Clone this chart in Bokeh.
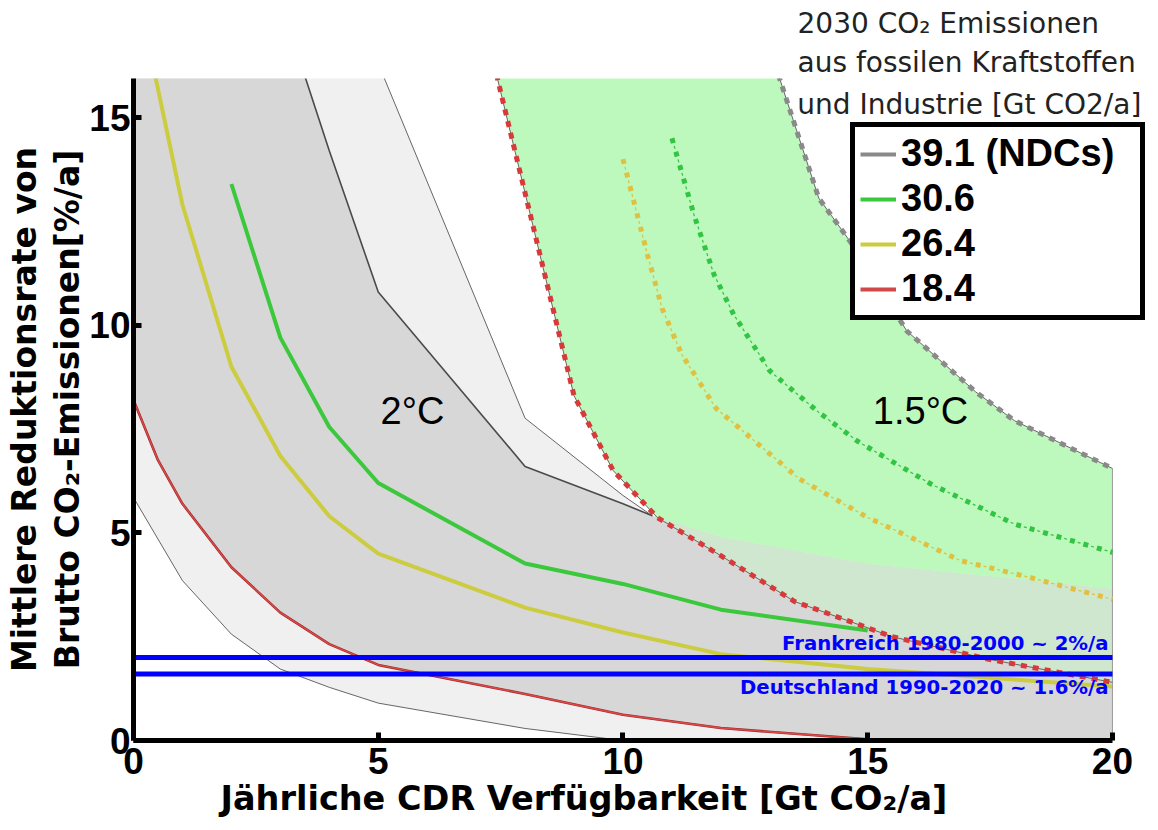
import numpy as np
from bokeh.plotting import figure
from bokeh.models import (Range1d, FixedTicker, Label, Legend, LegendItem, Title)
from bokeh.embed import file_html
from bokeh.resources import INLINE

# ---------------- data ----------------
cdr_min, cdr_max = 0, 20
y_top = 15.94

# 2°C: wide (light grey) range
lg_lo_x = [0, 1, 2, 3, 4, 5, 8, 10, 20]
lg_lo_y = [5.85, 3.85, 2.56, 1.72, 1.28, 0.9, 0.29, 0.0, 0.0]
lg_hi_x = [5, 8, 10, 10.6, 12, 15, 20]
lg_hi_y = [16.3, 7.76, 5.9, 5.41, 4.9, 4.25, 3.65]

# 2°C scenario curves (solid)
ndc2_x = [3, 4, 5, 8, 10, 10.6, 12, 15, 20]
ndc2_y = [17.8, 14.2, 10.8, 6.6, 5.7, 5.41, 4.9, 4.25, 3.65]
red2_x = [0, 0.5, 1, 2, 3, 4, 5, 8, 10, 12, 15]
red2_y = [8.2, 6.75, 5.7, 4.17, 3.08, 2.32, 1.82, 1.12, 0.62, 0.3, 0.03]
yel2_x = [0.3, 1, 2, 3, 4, 5, 8, 10, 12, 15, 20]
yel2_y = [16.8, 12.9, 9.0, 6.85, 5.4, 4.5, 3.2, 2.6, 2.08, 1.72, 1.3]
grn2_x = [2, 3, 4, 5, 8, 10, 12, 15]
grn2_y = [13.4, 9.7, 7.55, 6.2, 4.26, 3.77, 3.15, 2.65]

# 1.5°C scenario curves (dashed)
red15_x = [7.3, 9.0, 9.8, 10.7, 12, 13.5, 15.5, 17.5, 20]
red15_y = [16.6, 8.3, 6.5, 5.37, 4.45, 3.35, 2.5, 1.95, 1.4]
ndc15_x = [13.1, 14.0, 14.65, 15.8, 17.2, 18.0, 20]
ndc15_y = [16.3, 13.06, 12.0, 9.86, 8.4, 7.7, 6.55]
yel15_x = [10.0, 10.5, 10.8, 11.2, 11.9, 12.8, 13.6, 15.0, 16.9, 18.3, 20.0]
yel15_y = [14.0, 11.7, 10.4, 9.3, 8.0, 7.1, 6.3, 5.37, 4.33, 3.93, 3.4]
grn15_x = [11.0, 11.45, 11.86, 12.26, 13.0, 14.0, 14.8, 16.3, 18.0, 20.0]
grn15_y = [14.5, 12.66, 11.22, 10.26, 8.9, 7.9, 7.2, 6.17, 5.21, 4.53]

# where the 2°C upper bound meets the 1.5°C lower bound
merge_x = 10.6

france_rate = 2.0
germany_rate = 1.6

legend_labels = ["39.1 (NDCs)", "30.6", "26.4", "18.4"]
x_ticks = [0, 5, 10, 15, 20]
y_ticks = [0, 5, 10, 15]

# ---------------- figure ----------------
W, H = 1156, 830
L, T, B = 133, 77, 90
p = figure(width=W, height=H, output_backend="svg", toolbar_location=None,
           x_range=Range1d(0, 20.9), y_range=Range1d(0, y_top),
           min_border_left=L, min_border_right=0, min_border_top=T,
           min_border_bottom=B)
p.title.text = ""
p.outline_line_color = None
p.grid.visible = False
p.background_fill_color = "white"

for ax, ticks in ((p.xaxis, x_ticks), (p.yaxis, y_ticks)):
    ax.ticker = FixedTicker(ticks=ticks)
    ax.axis_line_width = 5
    ax.axis_line_color = "black"
    ax.major_tick_in = 8
    ax.major_tick_out = 0
    ax.major_tick_line_width = 5
    ax.minor_tick_line_color = None
    ax.major_label_text_font = "Liberation Sans"
    ax.major_label_text_font_style = "bold"
    ax.major_label_text_font_size = "37px"
    ax.major_label_text_color = "black"
p.xaxis.bounds = (cdr_min, cdr_max)
p.xaxis.major_label_standoff = 7
p.yaxis.major_label_standoff = 3

# light grey band
lgx = lg_lo_x + lg_hi_x[::-1] + [lg_lo_x[0]]
lgy = lg_lo_y + lg_hi_y[::-1] + [lg_hi_y[0]]
p.patch(lgx, lgy, fill_color="#f0f0f0", line_color=None)

# dark grey band
dgx = red2_x + [red2_x[-1], cdr_max] + ndc2_x[::-1] + [red2_x[0]]
dgy = red2_y + [0, 0] + ndc2_y[::-1] + [ndc2_y[0]]
p.patch(dgx, dgy, fill_color="#d7d7d7", line_color=None)

# thin boundaries of the light band
i_lo = lg_lo_x.index(10) + 1
i_hi = next(i for i, v in enumerate(lg_hi_x) if v >= merge_x) + 1
p.line(lg_lo_x[:i_lo], lg_lo_y[:i_lo], line_color="#555555", line_width=0.9)
p.line(lg_hi_x[:i_hi], lg_hi_y[:i_hi], line_color="#555555", line_width=0.9)

# 2°C solid lines
i_n = next(i for i, v in enumerate(ndc2_x) if v >= merge_x)
p.line(ndc2_x[:i_n + 1], ndc2_y[:i_n + 1], line_color="#4a4a4a", line_width=1.6)
p.line(red2_x, red2_y, line_color="#9a2a2a", line_width=2.6)
p.line(red2_x, red2_y, line_color="#e04848", line_width=1.4)
p.line(yel2_x, yel2_y, line_color="#cccc40", line_width=4)
p.line(grn2_x, grn2_y, line_color="#3cc83c", line_width=4)

# green 1.5°C band (pure part and part overlapping the 2°C band)
i_r = next(i for i, v in enumerate(red15_x) if v >= merge_x)
gx = red15_x[:i_r + 1] + ndc2_x[i_n:] + ndc15_x[::-1]
gy = red15_y[:i_r + 1] + ndc2_y[i_n:] + ndc15_y[::-1]
p.patch(gx, gy, fill_color="#bdf8bd", line_color=None)
ox = red15_x[i_r:] + ndc2_x[i_n:][::-1]
oy = red15_y[i_r:] + ndc2_y[i_n:][::-1]
p.patch(ox, oy, fill_color="#cfe6cf", line_color=None)
p.segment(x0=[cdr_max], y0=[0], x1=[cdr_max], y1=[ndc15_y[-1]],
          line_color="#999999", line_width=1)

# 1.5°C dashed lines
p.line(red15_x, red15_y, line_color="#666666", line_width=1)
p.line(red15_x, red15_y, line_color="#d83a3a", line_width=5, line_dash="6 6")
p.line(ndc15_x, ndc15_y, line_color="#666666", line_width=1)
p.line(ndc15_x, ndc15_y, line_color="#8a8a8a", line_width=5, line_dash="6 6")
for xs, ys, col in ((yel15_x, yel15_y, "#e0c040"), (grn15_x, grn15_y, "#33c444")):
    p.line(xs, ys, line_color=col, line_width=5, line_dash="5 9")
    p.line(xs, ys, line_color=col, line_width=1.2, line_dash="3 11",
           line_dash_offset=-8)

# historic reduction rates
p.segment(x0=[cdr_min, cdr_min], y0=[france_rate, germany_rate],
          x1=[cdr_max, cdr_max], y1=[france_rate, germany_rate],
          line_color="#0000ff", line_width=5)

p.add_layout(Label(x=19.92, y=france_rate + 0.33, text="Frankreich 1980-2000 ~ 2%/a",
                   text_align="right", text_baseline="middle",
                   text_font="DejaVu Sans", text_font_style="bold",
                   text_font_size="19.7px", text_color="#0000ff"))
p.add_layout(Label(x=19.92, y=germany_rate - 0.32, text="Deutschland 1990-2020 ~ 1.6%/a",
                   text_align="right", text_baseline="middle",
                   text_font="DejaVu Sans", text_font_style="bold",
                   text_font_size="19.7px", text_color="#0000ff"))

# region labels
for xx, txt in ((5.7, "2°C"), (16.08, "1.5°C")):
    p.add_layout(Label(x=xx, y=7.93, text=txt, text_align="center",
                       text_baseline="middle", text_font="Liberation Sans",
                       text_font_size="38px", text_color="black"))

# legend (swatches)
sw = [p.line(x=[np.nan], y=[np.nan], line_color=c, line_width=4)
      for c in ("#8a8a8a", "#3cc83c", "#cccc40", "#d04848")]
leg = Legend(items=[LegendItem(label=l, renderers=[r]) for l, r in zip(legend_labels, sw)],
             location=(717, 420), orientation="vertical")
leg.border_line_color = "black"
leg.border_line_alpha = 1
leg.border_line_width = 5
leg.background_fill_color = "white"
leg.background_fill_alpha = 1
leg.label_text_font = "Liberation Sans"
leg.label_text_font_style = "bold"
leg.label_text_font_size = "38px"
leg.label_text_color = "black"
leg.glyph_width = 36
leg.glyph_height = 40
leg.label_height = 40
leg.label_width = 234
leg.label_standoff = 5
leg.spacing = 2
leg.padding = 5
leg.margin = 0
p.add_layout(leg)

# annotation text (top right): two lines above the frame, one inside
p.add_layout(Title(text="aus fossilen Kraftstoffen", align="left", offset=664,
                   standoff=0, text_font="DejaVu Sans", text_font_style="normal",
                   text_font_size="28px", text_color="#222222"), "above")
p.add_layout(Title(text="2030 CO₂ Emissionen", align="left", offset=664,
                   standoff=8, text_font="DejaVu Sans", text_font_style="normal",
                   text_font_size="28px", text_color="#222222"), "above")
p.add_layout(Label(x=13.56, y=15.31, text="und Industrie [Gt CO2/a]",
                   text_align="left", text_baseline="middle",
                   text_font="DejaVu Sans", text_font_size="28px",
                   text_color="#222222"))

# axis titles
p.add_layout(Title(text="Jährliche CDR Verfügbarkeit [Gt CO₂/a]", align="left",
                   offset=87, standoff=0, text_font="DejaVu Sans",
                   text_font_style="bold", text_font_size="33.5px",
                   text_color="black"), "below")
p.add_layout(Title(text="Brutto CO₂-Emissionen[%/a]", align="center",
                   standoff=0, text_font="DejaVu Sans", text_font_style="bold",
                   text_font_size="33px", text_color="black"), "left")
p.add_layout(Title(text="Mittlere Reduktionsrate von", align="center",
                   standoff=4, text_font="DejaVu Sans", text_font_style="bold",
                   text_font_size="33px", text_color="black"), "left")

open("out.html", "w").write(file_html(p, INLINE))
